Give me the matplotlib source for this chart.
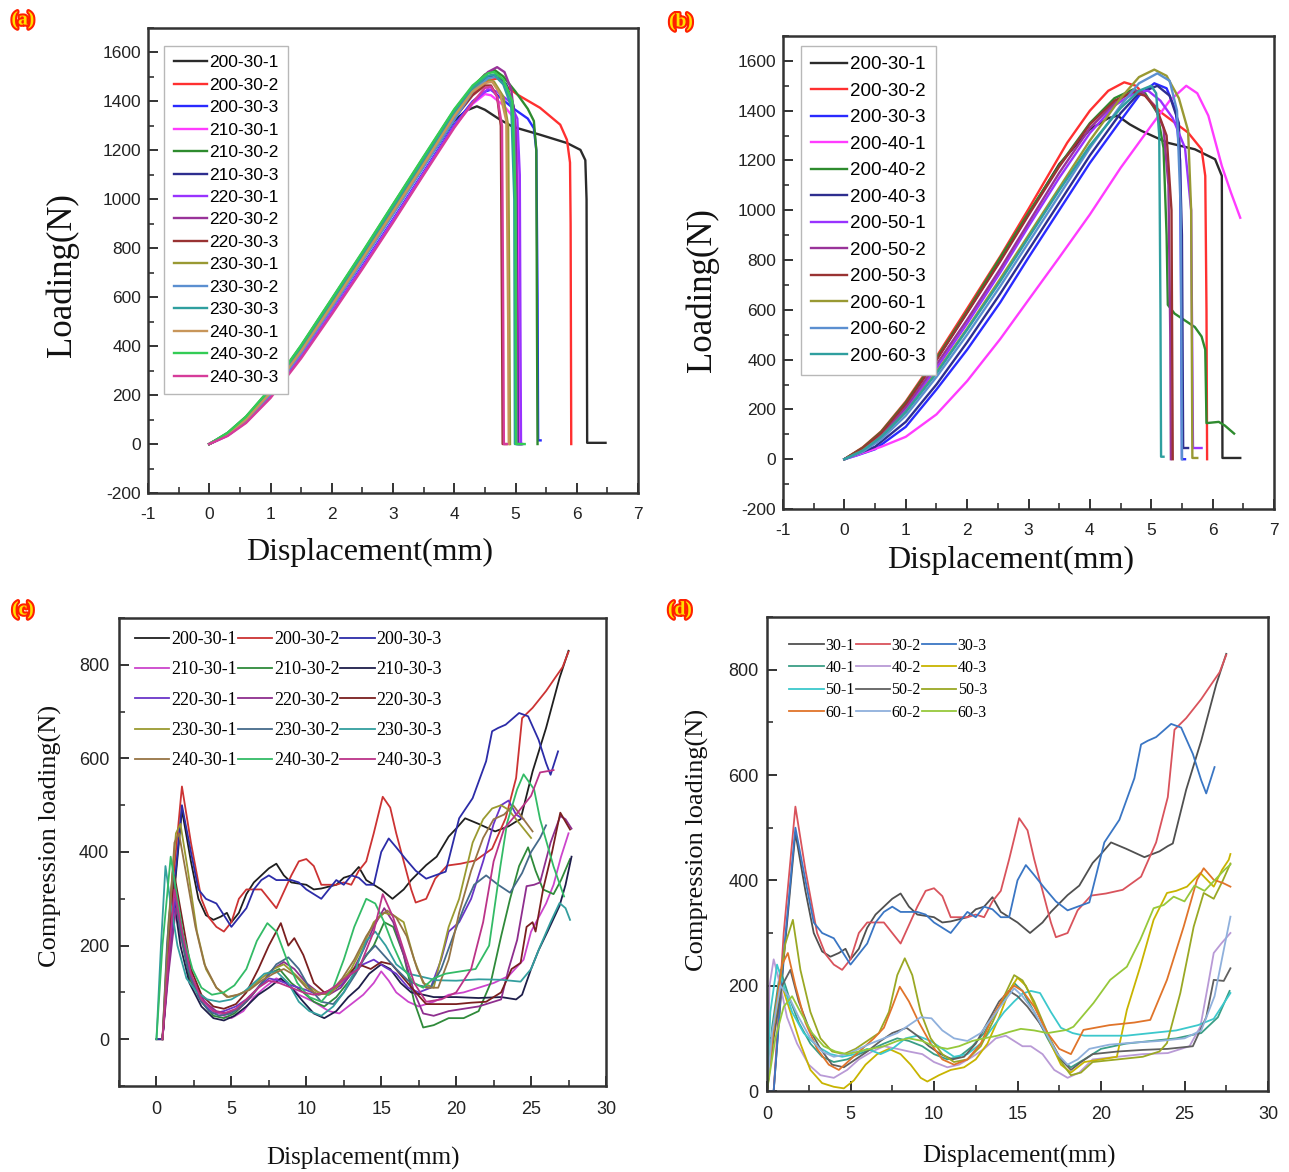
import numpy as np
import matplotlib.pyplot as plt
import matplotlib.patheffects as pe
from matplotlib import font_manager
from matplotlib.ticker import MultipleLocator

plt.rcParams['axes.unicode_minus'] = False

W, H = 1289, 1172

_names = {f.name for f in font_manager.fontManager.ttflist}
SANS = 'Liberation Sans Narrow' if 'Liberation Sans Narrow' in _names else 'Liberation Sans'
SERIF = 'Liberation Serif'

# ---- panel (a): tensile curves, temperature series ----
a_200_30_1 = [(0,0),(0.3,40),(0.6,100),(1,208),(1.5,378),(2,562),(2.5,752),(3,942),(3.5,1135),(4,1322),(4.2,1363),(4.37,1380),(4.5,1366),(4.75,1325),(4.96,1296),(5.4,1264),(5.84,1230),(6.06,1202),(6.14,1160),(6.16,1000),(6.17,5),(6.47,5)]
a_200_30_2 = [(0,0),(0.3,40),(0.6,102),(1,212),(1.5,382),(2,568),(2.5,758),(3,948),(3.5,1142),(4,1335),(4.3,1430),(4.55,1485),(4.72,1495),(4.9,1452),(5.05,1425),(5.4,1374),(5.73,1305),(5.84,1243),(5.89,1150),(5.9,900),(5.91,0)]
a_200_30_3 = [(0,0),(0.3,36),(0.6,92),(1,196),(1.5,362),(2,542),(2.5,728),(3,918),(3.5,1112),(4,1305),(4.3,1400),(4.5,1440),(4.6,1448),(4.8,1405),(5.0,1365),(5.2,1330),(5.3,1290),(5.34,1200),(5.36,600),(5.37,15),(5.41,15)]
a_210_30_1 = [(0,0),(0.3,35),(0.6,90),(1,194),(1.5,358),(2,538),(2.5,722),(3,912),(3.5,1106),(4,1298),(4.3,1390),(4.5,1430),(4.6,1425),(4.8,1385),(4.95,1340),(5.03,1250),(5.05,600),(5.06,0),(5.12,0)]
a_210_30_2 = [(0,0),(0.3,46),(0.6,112),(1,226),(1.5,402),(2,592),(2.5,782),(3,978),(3.5,1172),(4,1365),(4.3,1460),(4.5,1510),(4.65,1530),(4.8,1502),(5.0,1440),(5.2,1370),(5.3,1320),(5.34,1200),(5.35,500),(5.36,0)]
a_210_30_3 = [(0,0),(0.3,42),(0.6,104),(1,214),(1.5,386),(2,572),(2.5,762),(3,955),(3.5,1148),(4,1340),(4.3,1440),(4.55,1500),(4.7,1510),(4.85,1470),(4.97,1380),(5.01,1200),(5.03,500),(5.04,0),(5.1,0)]
a_220_30_1 = [(0,0),(0.3,35),(0.6,89),(1,192),(1.5,356),(2,536),(2.5,720),(3,910),(3.5,1104),(4,1300),(4.3,1395),(4.55,1450),(4.7,1440),(4.9,1400),(5.03,1330),(5.07,1100),(5.08,500),(5.09,0)]
a_220_30_2 = [(0,0),(0.3,40),(0.6,100),(1,210),(1.5,380),(2,566),(2.5,756),(3,948),(3.5,1142),(4,1335),(4.3,1450),(4.55,1520),(4.7,1540),(4.82,1520),(4.93,1450),(5.0,1300),(5.02,600),(5.03,0),(5.08,0)]
a_220_30_3 = [(0,0),(0.3,40),(0.6,100),(1,208),(1.5,378),(2,562),(2.5,752),(3,944),(3.5,1138),(4,1330),(4.3,1425),(4.5,1465),(4.6,1465),(4.7,1420),(4.76,1300),(4.78,500),(4.79,0),(4.85,0)]
a_230_30_1 = [(0,0),(0.3,42),(0.6,104),(1,216),(1.5,388),(2,575),(2.5,765),(3,958),(3.5,1152),(4,1345),(4.3,1450),(4.55,1490),(4.65,1480),(4.8,1420),(4.88,1300),(4.9,500),(4.91,0)]
a_230_30_2 = [(0,0),(0.3,38),(0.6,96),(1,204),(1.5,372),(2,556),(2.5,746),(3,938),(3.5,1132),(4,1325),(4.3,1440),(4.55,1495),(4.68,1500),(4.85,1460),(4.97,1350),(5.0,900),(5.01,0),(5.1,0)]
a_230_30_3 = [(0,0),(0.3,44),(0.6,108),(1,220),(1.5,395),(2,584),(2.5,774),(3,968),(3.5,1162),(4,1355),(4.3,1455),(4.55,1505),(4.65,1510),(4.8,1470),(4.93,1380),(4.98,1000),(4.99,0),(5.05,0)]
a_240_30_1 = [(0,0),(0.3,40),(0.6,100),(1,210),(1.5,380),(2,566),(2.5,756),(3,948),(3.5,1142),(4,1340),(4.3,1440),(4.5,1475),(4.62,1480),(4.75,1430),(4.85,1320),(4.88,500),(4.89,0)]
a_240_30_2 = [(0,0),(0.3,46),(0.6,112),(1,228),(1.5,404),(2,594),(2.5,785),(3,980),(3.5,1175),(4,1368),(4.3,1465),(4.55,1515),(4.65,1520),(4.8,1490),(4.95,1400),(5.0,1000),(5.01,0),(5.15,0)]
a_240_30_3 = [(0,0),(0.3,33),(0.6,86),(1,188),(1.5,350),(2,530),(2.5,715),(3,905),(3.5,1100),(4,1292),(4.3,1395),(4.5,1455),(4.6,1460),(4.7,1420),(4.78,1300),(4.8,500),(4.81,0),(4.86,0)]

# ---- panel (b): tensile curves, speed series ----
b_200_30_1 = [(0,0),(0.3,45),(0.6,108),(1,225),(1.5,400),(2,590),(2.54,800),(3,985),(3.5,1185),(4,1325),(4.3,1370),(4.45,1380),(4.65,1345),(4.84,1319),(5.27,1271),(5.71,1245),(6.04,1205),(6.15,1138),(6.16,5),(6.45,5)]
b_200_30_2 = [(0,0),(0.3,48),(0.6,112),(1,232),(1.5,412),(2,605),(2.54,815),(3,1005),(3.63,1271),(4,1400),(4.3,1480),(4.56,1514),(4.75,1500),(5.16,1393),(5.6,1312),(5.82,1245),(5.88,1138),(5.9,600),(5.91,0)]
b_200_30_3 = [(0,0),(0.2,15),(0.5,40),(1,130),(1.5,280),(2,440),(2.54,630),(3,810),(3.5,1000),(4,1190),(4.5,1360),(4.8,1460),(5.05,1510),(5.25,1490),(5.4,1400),(5.47,1200),(5.49,500),(5.5,0),(5.55,0)]
b_200_40_1 = [(0,0),(0.3,25),(0.6,50),(1,90),(1.5,180),(2,314),(2.54,483),(3,640),(3.5,810),(4,983),(4.5,1170),(5,1340),(5.3,1440),(5.57,1500),(5.75,1470),(5.93,1380),(6.15,1178),(6.3,1070),(6.45,970)]
b_200_40_2 = [(0,0),(0.3,46),(0.6,110),(1,228),(1.5,405),(2,595),(2.54,810),(3,990),(3.5,1180),(4,1350),(4.4,1450),(4.7,1485),(4.9,1470),(5.1,1390),(5.2,1250),(5.25,900),(5.27,620),(5.38,585),(5.71,531),(5.82,493),(5.88,440),(5.9,145),(6.1,150),(6.2,135),(6.35,103)]
b_200_40_3 = [(0,0),(0.2,20),(0.5,50),(1,150),(1.5,300),(2,470),(2.54,665),(3,840),(3.5,1030),(4,1220),(4.5,1390),(4.8,1470),(5.1,1500),(5.3,1460),(5.45,1350),(5.5,900),(5.52,45),(5.6,45)]
b_200_50_1 = [(0,0),(0.3,35),(0.6,90),(1,200),(1.5,365),(2,545),(2.54,750),(3,935),(3.5,1130),(4,1310),(4.4,1420),(4.75,1475),(4.95,1480),(5.15,1440),(5.35,1370),(5.55,1250),(5.65,1000),(5.68,45),(5.82,45)]
b_200_50_2 = [(0,0),(0.3,38),(0.6,95),(1,210),(1.5,380),(2,560),(2.54,765),(3,950),(3.5,1150),(4,1330),(4.4,1430),(4.7,1480),(4.85,1475),(5.05,1420),(5.2,1330),(5.28,1100),(5.31,500),(5.32,0)]
b_200_50_3 = [(0,0),(0.3,44),(0.6,106),(1,222),(1.5,398),(2,588),(2.54,795),(3,980),(3.5,1175),(4,1345),(4.4,1440),(4.7,1475),(4.9,1460),(5.1,1400),(5.25,1300),(5.33,1000),(5.35,0)]
b_200_60_1 = [(0,0),(0.3,35),(0.6,90),(1,190),(1.5,350),(2,525),(2.54,725),(3,900),(3.5,1090),(4,1280),(4.5,1450),(4.8,1535),(5.05,1565),(5.25,1540),(5.45,1450),(5.6,1320),(5.65,1000),(5.67,5),(5.75,5)]
b_200_60_2 = [(0,0),(0.3,30),(0.6,80),(1,175),(1.5,330),(2,500),(2.54,695),(3,870),(3.5,1060),(4,1250),(4.5,1420),(4.8,1510),(5.1,1550),(5.3,1520),(5.42,1400),(5.48,1000),(5.5,0)]
b_200_60_3 = [(0,0),(0.3,35),(0.6,90),(1,190),(1.5,345),(2,520),(2.54,715),(3,890),(3.5,1080),(4,1260),(4.5,1410),(4.8,1480),(5.0,1500),(5.08,1470),(5.13,1300),(5.15,600),(5.16,10),(5.2,10)]

# ---- panel (c)/(d): compression curves ----
c_200_30_1 = [(0,0),(0.4,0),(1,250),(1.7,490),(2.3,380),(2.8,300),(3.3,265),(3.8,255),(4.3,262),(4.7,270),(5,250),(5.5,270),(6,310),(6.5,335),(7,350),(7.5,365),(8,375),(8.5,350),(9,335),(10,330),(10.5,320),(11,322),(12,330),(12.5,345),(13,350),(13.5,368),(14,340),(15,320),(15.75,300),(16.5,320),(17,340),(18,372),(18.7,390),(19.5,433),(20,450),(20.6,472),(21.5,460),(22.6,444),(23.5,455),(24,465),(24.3,470),(25.1,572),(26,665),(26.9,772),(27.5,830)]
c_200_30_2 = [(0,0),(0.4,0),(1,300),(1.7,540),(2.3,420),(3,300),(3.5,260),(4,240),(4.5,230),(5,250),(5.5,300),(6,320),(7,320),(7.5,300),(8,280),(8.5,315),(9,350),(9.5,380),(10,385),(10.5,370),(11,330),(12,330),(12.5,335),(13,330),(13.5,360),(14,380),(14.5,440),(15.1,518),(15.6,495),(16,440),(16.5,380),(17,320),(17.3,292),(18,300),(18.6,343),(19.4,371),(20.3,375),(21.3,382),(22.4,407),(23.3,472),(24,558),(24.4,686),(25.1,708),(26,744),(26.6,772),(27.1,795),(27.5,828)]
c_200_30_3 = [(0,0),(0.4,0),(1,260),(1.7,500),(2.3,400),(2.8,320),(3.3,300),(4,290),(4.5,265),(5,240),(5.5,260),(6,280),(6.5,320),(7,340),(7.5,350),(8,340),(9,340),(9.5,335),(10,320),(10.5,310),(11,300),(11.5,320),(12,340),(12.5,330),(13,350),(13.5,345),(14,330),(14.5,330),(15,400),(15.5,429),(16,410),(16.6,386),(17.3,360),(18,343),(18.6,350),(19.3,358),(20.2,472),(21.1,515),(22,594),(22.4,658),(22.8,665),(23.3,672),(24.2,697),(24.8,690),(25.5,640),(26,590),(26.3,565),(26.8,615)]
c_210_30_1 = [(0.4,0),(0.8,150),(1.2,300),(1.6,220),(2.2,140),(3,90),(3.8,60),(4.5,50),(5,45),(5.8,60),(6.5,90),(7.2,110),(8,130),(8.7,120),(9.5,95),(10.5,80),(11.5,60),(12.2,55),(13,75),(13.8,95),(14.5,120),(15,145),(15.5,125),(16,100),(16.8,80),(17.5,70),(18.5,80),(19.5,95),(20.5,100),(21.5,110),(22.5,120),(23.5,135),(24.5,170),(25,230),(25.5,260),(26,290),(26.5,330),(27,390),(27.5,440)]
c_210_30_2 = [(0.4,0),(0.8,180),(1.2,330),(1.6,230),(2.2,130),(3,80),(3.8,50),(4.5,45),(5.2,55),(6,80),(6.8,110),(7.5,140),(8.2,150),(9,120),(9.8,100),(10.5,80),(11.2,70),(12,90),(13,130),(13.8,170),(14.5,200),(15.2,250),(15.8,240),(16.5,180),(17.2,80),(17.8,25),(18.5,30),(19.5,45),(20.5,45),(21.5,60),(22.3,120),(23,220),(23.6,300),(24.2,370),(24.8,410),(25.3,360),(25.8,320),(26.5,310),(27,340),(27.6,385)]
c_210_30_3 = [(0.4,0),(0.8,160),(1.2,290),(1.6,200),(2.2,120),(3,70),(3.8,45),(4.5,40),(5.2,50),(6,70),(6.8,95),(7.5,110),(8.3,130),(9,110),(9.8,80),(10.5,55),(11.2,45),(12,60),(12.8,90),(13.5,110),(14.2,140),(15,160),(15.6,150),(16.3,120),(17,100),(17.8,95),(18.5,90),(20,90),(21.5,88),(23,90),(24,85),(24.4,95),(25,150),(25.5,190),(26.1,230),(26.9,285),(27.3,330),(27.7,390)]
c_220_30_1 = [(0.4,0),(0.8,170),(1.3,310),(1.7,230),(2.3,130),(3,80),(3.8,55),(4.5,60),(5.3,70),(6,85),(6.8,110),(7.5,130),(8.2,125),(9,115),(10,105),(10.8,95),(11.5,100),(12.3,115),(13,140),(13.8,160),(14.5,170),(15.2,155),(16,140),(16.8,110),(17.5,100),(18.3,110),(19,170),(19.5,230),(20.2,250),(21,300),(21.8,380),(22.5,460),(23,500),(23.5,510),(24,480),(24.5,470)]
c_220_30_2 = [(0.4,0),(0.8,140),(1.3,280),(1.8,210),(2.4,130),(3.2,80),(4,60),(4.7,55),(5.5,65),(6.3,90),(7,120),(7.8,150),(8.5,165),(9.2,150),(10,120),(10.8,100),(11.5,95),(12.3,110),(13,140),(13.8,190),(14.5,240),(15.2,280),(15.8,250),(16.5,180),(17.2,100),(17.8,55),(18.5,50),(19.5,60),(20.5,65),(21.5,70),(22.5,80),(23,85),(23.5,150),(24.07,212),(24.7,327),(25.2,330),(25.6,335),(26.3,420),(26.95,477),(27.3,470),(27.7,450)]
c_220_30_3 = [(0.4,0),(0.8,180),(1.2,350),(1.7,260),(2.3,150),(3,95),(3.8,70),(4.5,65),(5.3,75),(6,100),(6.8,150),(7.5,200),(8.3,248),(8.8,200),(9.2,216),(9.8,180),(10.5,120),(11.2,100),(12,110),(12.8,140),(13.5,160),(14.3,150),(15,165),(15.7,160),(16.5,130),(17.3,100),(18,75),(19,75),(20,75),(21,78),(22,80),(23,100),(23.7,150),(24.3,163),(24.7,240),(25.1,250),(25.3,230),(25.8,320),(26.4,400),(26.95,484),(27.6,448)]
c_230_30_1 = [(0.4,0),(0.8,250),(1.3,440),(1.6,460),(2.1,360),(2.7,230),(3.3,150),(4,110),(4.8,90),(5.5,95),(6.3,110),(7,130),(7.8,150),(8.5,160),(9.2,140),(10,115),(10.8,100),(11.5,95),(12.3,120),(13,150),(13.8,200),(14.5,250),(15.2,270),(15.8,265),(16.5,250),(17.2,170),(17.8,120),(18.5,110),(19.2,200),(19.5,240),(20.2,300),(21.1,420),(21.8,470),(22.4,493),(23,500),(23.5,490),(24,470),(24.5,450),(25,430)]
c_230_30_2 = [(0.4,0),(0.7,200),(1.1,360),(1.5,250),(2.1,150),(2.8,90),(3.5,60),(4.2,50),(5,55),(5.8,75),(6.5,100),(7.3,130),(8,160),(8.8,175),(9.5,150),(10.2,110),(11,80),(11.8,75),(12.5,100),(13.3,140),(14,180),(14.6,200),(15.3,175),(16,150),(16.8,125),(17.5,115),(18.3,110),(19,150),(19.8,220),(20.5,280),(21.2,330),(22,350),(22.8,330),(23.6,313),(24.4,355),(25,400),(25.6,430),(26,457)]
c_230_30_3 = [(0,0),(0.3,200),(0.6,370),(0.9,300),(1.4,200),(2,130),(2.7,100),(3.4,85),(4.2,80),(5,85),(5.8,100),(6.5,120),(7.2,140),(8,145),(8.8,120),(9.5,80),(10.2,60),(11,50),(11.8,70),(12.5,100),(13.3,150),(14,210),(14.6,230),(15.3,200),(16,160),(16.8,140),(17.5,135),(18.7,126),(20,125),(21.5,128),(23,127),(24.3,123),(25,150),(25.6,198),(26.3,250),(26.9,291),(27.3,280),(27.6,255)]
c_240_30_1 = [(0.4,0),(0.8,230),(1.2,420),(1.5,440),(2,350),(2.6,240),(3.2,160),(4,110),(4.7,90),(5.4,95),(6.2,105),(7,125),(7.8,140),(8.5,150),(9.3,135),(10,110),(10.8,95),(11.6,100),(12.4,130),(13.2,170),(14,220),(14.8,260),(15.4,275),(16,260),(16.7,220),(17.4,150),(18,110),(18.8,110),(19.5,170),(20.2,270),(21,360),(21.8,430),(22.5,470),(23.2,480),(23.8,500),(24.5,470),(25.1,444)]
c_240_30_2 = [(0,0),(0.4,200),(0.95,390),(1.3,320),(1.8,220),(2.4,150),(3,110),(3.7,95),(4.5,100),(5.2,115),(6,150),(6.7,210),(7.4,248),(8,230),(8.7,170),(9.4,120),(10.2,90),(11,80),(11.8,110),(12.5,170),(13.2,240),(14,300),(14.6,290),(15.2,250),(15.8,200),(16.5,150),(17.2,120),(17.8,110),(18.5,130),(19.3,140),(20.3,145),(21.3,150),(22.2,200),(22.95,369),(23.4,462),(24.07,534),(24.5,566),(25.2,534),(25.6,470),(26.5,369),(27.2,305)]
c_240_30_3 = [(0.4,0),(0.8,170),(1.2,320),(1.7,230),(2.3,140),(3,85),(3.8,60),(4.5,55),(5.3,65),(6,85),(6.8,110),(7.5,125),(8.2,120),(9,110),(9.8,100),(10.5,95),(11.3,100),(12,115),(12.8,135),(13.5,150),(14.5,230),(15.1,310),(15.8,260),(16.5,190),(17.2,120),(18,80),(19,85),(20,100),(21,150),(21.8,250),(22.5,380),(23.2,450),(24,480),(25,520),(25.6,570),(26.5,575)]

d_40_1 = [(0,0),(0.3,120),(0.8,230),(1.3,180),(1.9,130),(2.6,90),(3.3,65),(4,55),(4.8,60),(5.5,70),(6.3,80),(7,90),(7.8,100),(8.5,95),(9.3,85),(10,70),(10.8,60),(11.5,65),(12.3,85),(13,110),(13.7,150),(14.3,180),(14.8,205),(15.3,190),(16,150),(16.8,100),(17.5,60),(18.2,45),(19,60),(20,80),(21.5,90),(23,95),(24.5,100),(26,110),(27,140),(27.7,190)]
d_40_2 = [(0,0),(0.15,200),(0.4,250),(0.8,200),(1.2,140),(1.8,90),(2.5,50),(3.2,30),(4,25),(4.8,40),(5.5,60),(6.3,75),(7,85),(7.8,80),(8.5,75),(9.3,70),(10,55),(10.8,45),(11.5,50),(12.3,65),(13,80),(13.7,100),(14.3,105),(14.8,95),(15.3,85),(15.8,85),(16.5,70),(17.2,40),(18,25),(18.7,35),(19.5,60),(21,65),(22.5,70),(24,72),(25.3,85),(25.95,122),(26.4,200),(26.75,262),(27.2,280),(27.75,300)]
d_40_3 = [(0,0),(0.4,120),(0.9,200),(1.4,150),(2,90),(2.6,40),(3.3,15),(4,8),(4.6,5),(5.2,20),(5.9,50),(6.6,70),(7.3,80),(8,70),(8.6,50),(9.2,25),(9.6,18),(10.3,30),(11,40),(11.8,45),(12.5,60),(13.2,90),(13.9,140),(14.5,190),(15,215),(15.5,200),(16.2,150),(17,90),(17.6,50),(18.2,35),(19,55),(20,60),(20.95,65),(21.55,154),(22.35,236),(23.15,325),(23.95,376),(24.5,380),(25.15,388),(25.95,414),(26.75,388),(27.25,420),(27.65,439),(27.75,450)]
d_50_1 = [(0,0),(0.2,150),(0.6,240),(1.0,200),(1.5,150),(2.2,110),(3,85),(3.8,70),(4.5,65),(5.3,70),(6,80),(6.8,70),(7.5,80),(8.3,100),(9,105),(9.8,95),(10.5,80),(11.2,65),(12,70),(12.8,90),(13.5,120),(14.2,150),(14.8,170),(15.3,185),(15.8,190),(16.35,186),(17,150),(17.6,120),(18.3,110),(19,105),(20,105),(21.5,105),(23,110),(24.5,115),(25.8,125),(26.75,137),(27.75,186)]
d_50_2 = [(0,0),(0.4,100),(0.9,200),(1.4,230),(1.9,170),(2.5,120),(3.2,80),(3.9,50),(4.6,45),(5.3,60),(6,75),(6.8,95),(7.5,110),(8.35,120),(9,105),(9.7,85),(10.4,70),(11.1,60),(11.8,65),(12.5,90),(13.2,130),(13.9,170),(14.5,190),(15,180),(15.6,160),(16.3,130),(17,95),(17.6,60),(18.2,40),(18.8,55),(19.5,70),(21,75),(22.5,78),(24,80),(25.5,85),(26.3,140),(26.75,211),(27.35,209),(27.75,233)]
d_50_3 = [(0,0),(0.5,150),(1.1,280),(1.55,325),(2,230),(2.6,150),(3.2,100),(3.9,75),(4.6,70),(5.3,80),(6,95),(6.7,110),(7.3,150),(7.8,220),(8.25,252),(8.7,220),(9.2,150),(9.8,100),(10.5,70),(11.2,55),(12,60),(12.8,85),(13.5,130),(14.2,180),(14.8,220),(15.3,210),(16,170),(16.8,110),(17.5,60),(18.2,30),(18.8,35),(19.5,55),(21,60),(22.5,65),(23.5,75),(23.95,91),(24.75,186),(25.55,312),(26.15,376),(26.75,365),(27.3,400),(27.75,432)]
d_60_1 = [(0,0),(0.5,150),(0.9,240),(1.25,262),(1.7,200),(2.3,130),(3,80),(3.7,50),(4.3,40),(5,60),(5.7,80),(6.4,100),(7,120),(7.5,160),(7.95,198),(8.5,170),(9.1,130),(9.8,90),(10.5,60),(11.2,50),(12,60),(12.8,90),(13.5,140),(14.2,180),(14.8,200),(15.3,190),(16,160),(16.8,110),(17.5,80),(18.2,70),(18.95,116),(20.5,125),(22,130),(22.95,135),(23.95,211),(24.95,312),(25.75,401),(26.15,423),(26.75,401),(27.3,395),(27.75,388)]
d_60_2 = [(0,0),(0.3,110),(0.8,200),(1.3,180),(1.9,140),(2.6,100),(3.3,75),(4,65),(4.8,70),(5.5,80),(6.2,90),(7,100),(7.8,110),(8.5,125),(9.2,140),(9.85,138),(10.5,115),(11.2,100),(12,95),(12.8,110),(13.5,140),(14.2,170),(14.8,195),(15.3,180),(16,150),(16.7,110),(17.4,70),(18,50),(18.6,60),(19.3,80),(20.5,88),(22,92),(23.5,95),(25,100),(26,115),(26.8,180),(27.3,260),(27.75,331)]
d_60_3 = [(0,0),(0.5,100),(1,160),(1.5,180),(2,150),(2.7,110),(3.4,85),(4.1,75),(4.8,70),(5.5,75),(6.2,80),(7,85),(7.8,95),(8.5,100),(9.3,95),(10,85),(10.8,80),(11.5,85),(12.3,95),(13,100),(13.8,105),(14.5,112),(15.2,118),(16,115),(16.8,110),(17.95,116),(18.35,122),(19.55,167),(20.55,211),(21.55,236),(22.35,287),(23.15,347),(23.75,353),(24.35,369),(25,360),(25.6,390),(26.2,380),(26.8,400),(27.4,420),(27.75,430)]

A_LABELS = ['200-30-1','200-30-2','200-30-3','210-30-1','210-30-2','210-30-3','220-30-1','220-30-2','220-30-3',
            '230-30-1','230-30-2','230-30-3','240-30-1','240-30-2','240-30-3']
B_LABELS = ['200-30-1','200-30-2','200-30-3','200-40-1','200-40-2','200-40-3','200-50-1','200-50-2','200-50-3',
            '200-60-1','200-60-2','200-60-3']
D_LABELS = ['30-1','30-2','30-3','40-1','40-2','40-3','50-1','50-2','50-3','60-1','60-2','60-3']

A_COLORS = ['#2b2b2b','#ff3030','#2a2aff','#ff3cff','#2e8b2e','#2e2e8f','#9933ff','#993399','#993333',
            '#999933','#5b8fd0','#2f9f9f','#c8965a','#33cc55','#d63c9a']
C_COLORS = ['#1f1f1f','#cc3333','#2c2ca8','#cc44cc','#2f8a3a','#1e1e4a','#6a35c8','#8e2e8e','#7a1f1f',
            '#9a9a30','#456a8a','#339e9e','#967444','#33bb66','#bb3388']
D_COLORS = ['#505050','#d9535c','#3a76c4','#3a9e86','#b99ad6','#c8b400','#3cc8cc','#606060','#9aa824',
            '#e0742a','#8fb0dc','#96c83a']

a_curves = [a_200_30_1, a_200_30_2, a_200_30_3, a_210_30_1, a_210_30_2, a_210_30_3, a_220_30_1, a_220_30_2,
            a_220_30_3, a_230_30_1, a_230_30_2, a_230_30_3, a_240_30_1, a_240_30_2, a_240_30_3]
b_curves = [b_200_30_1, b_200_30_2, b_200_30_3, b_200_40_1, b_200_40_2, b_200_40_3, b_200_50_1, b_200_50_2,
            b_200_50_3, b_200_60_1, b_200_60_2, b_200_60_3]
c_curves = [c_200_30_1, c_200_30_2, c_200_30_3, c_210_30_1, c_210_30_2, c_210_30_3, c_220_30_1, c_220_30_2,
            c_220_30_3, c_230_30_1, c_230_30_2, c_230_30_3, c_240_30_1, c_240_30_2, c_240_30_3]
d_curves = [c_200_30_1, c_200_30_2, c_200_30_3, d_40_1, d_40_2, d_40_3, d_50_1, d_50_2, d_50_3,
            d_60_1, d_60_2, d_60_3]


def box(l, t, r, b):
    # pixel box -> figure fraction rect
    return [l / W, 1 - b / H, (r - l) / W, (b - t) / H]


def fig_text(x, y, s, **kw):
    return fig.text(x / W, 1 - y / H, s, ha='center', va='center', **kw)


def draw(ax, curves, labels, colors, lw):
    for pts, lab, col in zip(curves, labels, colors):
        xy = np.array(pts, dtype=float)
        ax.plot(xy[:, 0], xy[:, 1], color=col, lw=lw, label=lab, solid_joinstyle='round')


def style(ax, xlim, ylim, xticks, yticks, xminor, yminor, size, xpad, ypad):
    ax.set_xlim(*xlim)
    ax.set_ylim(*ylim)
    ax.set_xticks(xticks)
    ax.set_yticks(yticks)
    ax.xaxis.set_minor_locator(MultipleLocator(xminor))
    ax.yaxis.set_minor_locator(MultipleLocator(yminor))
    ax.tick_params(which='both', direction='in', top=False, right=False, color='#333333',
                   labelsize=size, labelcolor='#222222', labelfontfamily=SANS)
    ax.tick_params(which='major', length=7, width=1.4)
    ax.tick_params(which='minor', length=4, width=1.2)
    ax.tick_params(axis='x', pad=xpad)
    ax.tick_params(axis='y', pad=ypad)
    for s in ax.spines.values():
        s.set_color('#333333')
        s.set_linewidth(1.8)


def colmajor(items, ncol):
    return [items[i] for c in range(ncol) for i in range(c, len(items), ncol)]


fig = plt.figure(figsize=(W / 100, H / 100), dpi=100)

# (a)
ax_a = fig.add_axes(box(148, 28, 638, 493))
draw(ax_a, a_curves, A_LABELS, A_COLORS, 1.7)
style(ax_a, (-1, 7), (-200, 1700), range(-1, 8), range(-200, 1601, 200), 0.5, 100, 12.5, 10, 5)
ax_a.legend(loc='upper left', bbox_to_anchor=(0.033, 0.962), borderaxespad=0,
            prop={'family': SANS, 'size': 12.5}, handlelength=1.9, handletextpad=0.15, labelspacing=0.42,
            borderpad=0.55, fancybox=False, edgecolor='#b8b8b8', framealpha=1)
fig_text(370, 552, 'Displacement(mm)', family=SERIF, fontsize=23, color='#111111')
fig_text(62, 275, 'Loading(N)', family=SERIF, fontsize=25, rotation=90, color='#111111')

# (b)
ax_b = fig.add_axes(box(783, 36, 1274, 509))
draw(ax_b, b_curves, B_LABELS, A_COLORS[:12], 1.7)
style(ax_b, (-1, 7), (-200, 1700), range(-1, 8), range(-200, 1601, 200), 0.5, 100, 12.5, 10, 5)
ax_b.legend(loc='upper left', bbox_to_anchor=(0.037, 0.979), borderaxespad=0,
            prop={'family': SANS, 'size': 13.5}, handlelength=1.9, handletextpad=0.15, labelspacing=0.5,
            borderpad=0.55, fancybox=False, edgecolor='#b8b8b8', framealpha=1)
fig_text(1011, 560, 'Displacement(mm)', family=SERIF, fontsize=23, color='#111111')
fig_text(702, 290, 'Loading(N)', family=SERIF, fontsize=25, rotation=90, color='#111111')

# (c)
ax_c = fig.add_axes(box(119, 618, 606, 1086))
draw(ax_c, c_curves, A_LABELS, C_COLORS, 1.3)
style(ax_c, (-2.5, 30), (-100, 900), range(0, 31, 5), range(0, 801, 200), 2.5, 100, 13, 11, 7)
h, l = ax_c.get_legend_handles_labels()
ax_c.legend(colmajor(h, 3), colmajor(l, 3), ncol=3, loc='upper left', bbox_to_anchor=(0.018, 0.988),
            borderaxespad=0, frameon=False, prop={'family': SERIF, 'size': 13}, handlelength=1.9,
            handletextpad=0.1, columnspacing=0.05, labelspacing=0.74)
fig_text(363, 1158, 'Displacement(mm)', family=SERIF, fontsize=18, color='#111111')
fig_text(50, 836, 'Compression loading(N)', family=SERIF, fontsize=19, rotation=90, color='#111111')

# (d)
ax_d = fig.add_axes(box(767, 617, 1268, 1091))
draw(ax_d, d_curves, D_LABELS, D_COLORS, 1.3)
style(ax_d, (0, 30), (0, 900), range(0, 31, 5), range(0, 801, 200), 2.5, 100, 13, 11, 6)
h, l = ax_d.get_legend_handles_labels()
ax_d.legend(colmajor(h, 3), colmajor(l, 3), ncol=3, loc='upper left', bbox_to_anchor=(0.032, 0.97),
            borderaxespad=0, frameon=False, prop={'family': SERIF, 'size': 11.5}, handlelength=2.15,
            handletextpad=0.1, columnspacing=0.05, labelspacing=0.4)
fig_text(1019, 1156, 'Displacement(mm)', family=SERIF, fontsize=18, color='#111111')
fig_text(697, 840, 'Compression loading(N)', family=SERIF, fontsize=19, rotation=90, color='#111111')

# panel letters
for (x, y), s in zip([(23, 20), (681, 22), (23, 610), (680, 610)], ['(a)', '(b)', '(c)', '(d)']):
    t = fig_text(x, y, s, family=SERIF, fontsize=14, fontweight='bold', color='#ffe000')
    t.set_path_effects([pe.Stroke(linewidth=3, foreground='#ff2000'), pe.Normal()])

fig.savefig('out.png', dpi=100)
